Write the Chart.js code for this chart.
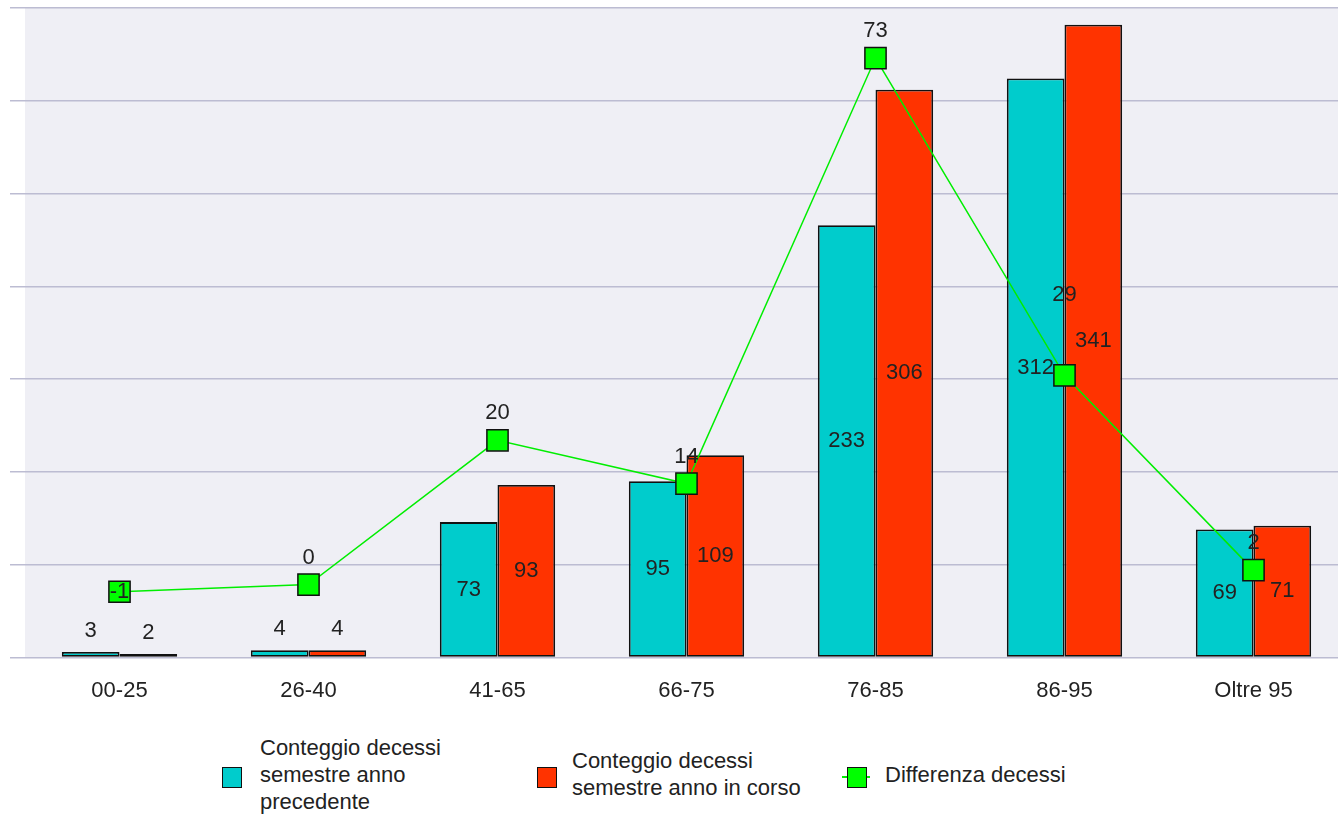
<!DOCTYPE html>
<html lang="it">
<head>
  <meta charset="UTF-8">
  <title>Decessi per fascia di età</title>
  <script src="https://cdn.jsdelivr.net/npm/chart.js"></script>
  <style>
    body {
      margin: 0;
      background: #ffffff;
      overflow: hidden;
      font-family: "Liberation Sans", Arial, sans-serif;
      color: #222;
    }

    .wrap {
      position: relative;
      width: 1338px;
      height: 816px;
      overflow: hidden;
    }

    canvas {
      position: absolute;
      left: 0;
      top: 0;
    }

    .legenda {
      position: absolute;
      font-size: 22px;
      line-height: 27px;
      color: #222;
    }

    .box {
      position: absolute;
      width: 18px;
      height: 19px;
      border: 1.5px solid #111;
    }

    .linea {
      position: absolute;
      height: 1.5px;
      background: #00ee00;
    }
  </style>
</head>
<body>
  <div class="wrap">
    <canvas id="grafico" width="1349" height="724"></canvas>

    <div class="box" style="left:222px; top:767px; background:#00cccc;"></div>
    <div class="legenda" style="left:260px; top:734px;">Conteggio decessi<br>semestre anno<br>precedente</div>

    <div class="box" style="left:537px; top:767px; background:#ff3300;"></div>
    <div class="legenda" style="left:572px; top:747px;">Conteggio decessi<br>semestre anno in corso</div>

    <div class="linea" style="left:842px; top:776px; width:28px;"></div>
    <div class="box" style="left:847px; top:767px; background:#00ff00;"></div>
    <div class="legenda" style="left:885px; top:761px;">Differenza decessi</div>
  </div>

  <script>
    const fasce = ['00-25', '26-40', '41-65', '66-75', '76-85', '86-95', 'Oltre 95'];
    const annoPrecedente = [3, 4, 73, 95, 233, 312, 69];
    const annoInCorso = [2, 4, 93, 109, 306, 341, 71];
    const differenza = [-1, 0, 20, 14, 73, 29, 2];

    const FONT = '"Liberation Sans", Arial, sans-serif';

    // sfondo grigio dell'area del grafico
    const sfondoArea = {
      id: 'sfondoArea',
      beforeDraw(chart) {
        const { ctx, chartArea } = chart;
        ctx.save();
        ctx.fillStyle = '#efeff5';
        ctx.fillRect(chartArea.left, chartArea.top, chartArea.right - chartArea.left, chartArea.bottom - chartArea.top);
        ctx.restore();
      }
    };

    // etichette dei valori
    const etichette = {
      id: 'etichette',
      afterDatasetsDraw(chart) {
        const ctx = chart.ctx;
        ctx.save();
        ctx.font = '22px ' + FONT;
        ctx.fillStyle = '#222';
        ctx.textAlign = 'center';
        ctx.textBaseline = 'middle';

        chart.data.datasets.forEach((ds, i) => {
          const meta = chart.getDatasetMeta(i);
          meta.data.forEach((el, j) => {
            const v = ds.data[j];
            if (ds.type === 'line') {
              let alza = 27;
              if (v < 0) alza = 0;
              if (j === 5) alza = 80;
              ctx.fillText(String(v), el.x, el.y - alza);
            } else {
              const h = el.base - el.y;
              if (h < 30) {
                ctx.fillText(String(v), el.x, el.y - 21);
              } else {
                ctx.fillText(String(v), el.x, el.y + h / 2);
              }
            }
          });
        });
        ctx.restore();
      }
    };

    const ctx = document.getElementById('grafico').getContext('2d');

    new Chart(ctx, {
      data: {
        labels: fasce,
        datasets: [
          {
            type: 'line',
            label: 'Differenza decessi',
            data: differenza,
            yAxisID: 'y1',
            borderColor: '#00ee00',
            borderWidth: 1.5,
            pointStyle: 'rect',
            pointRadius: 15,
            pointBackgroundColor: '#00ff00',
            pointBorderColor: '#111',
            pointBorderWidth: 1.5,
            tension: 0,
            clip: false,
            order: 0
          },
          {
            type: 'bar',
            label: 'Conteggio decessi semestre anno precedente',
            data: annoPrecedente,
            backgroundColor: '#00cccc',
            borderColor: '#111',
            borderWidth: 1.8,
            borderSkipped: false,
            categoryPercentage: 0.61,
            barPercentage: 1,
            order: 1
          },
          {
            type: 'bar',
            label: 'Conteggio decessi semestre anno in corso',
            data: annoInCorso,
            backgroundColor: '#ff3300',
            borderColor: '#111',
            borderWidth: 1.8,
            borderSkipped: false,
            categoryPercentage: 0.61,
            barPercentage: 1,
            order: 1
          }
        ]
      },
      options: {
        responsive: false,
        animation: false,
        layout: { autoPadding: false, padding: { left: 10, right: 1, top: 8, bottom: 0 } },
        plugins: {
          legend: { display: false },
          tooltip: { enabled: false }
        },
        scales: {
          x: {
            grid: { display: false, drawTicks: false },
            border: { display: false },
            ticks: {
              color: '#222',
              font: { family: FONT, size: 22 },
              padding: 20
            }
          },
          y: {
            min: 0,
            max: 350,
            ticks: { display: false, stepSize: 50 },
            grid: { color: '#bcbcd2', lineWidth: 1.5, tickLength: 15 },
            border: { display: false }
          },
          y1: {
            display: false,
            min: -10.13,
            max: 79.94
          }
        }
      },
      plugins: [sfondoArea, etichette]
    });
  </script>
</body>
</html>
